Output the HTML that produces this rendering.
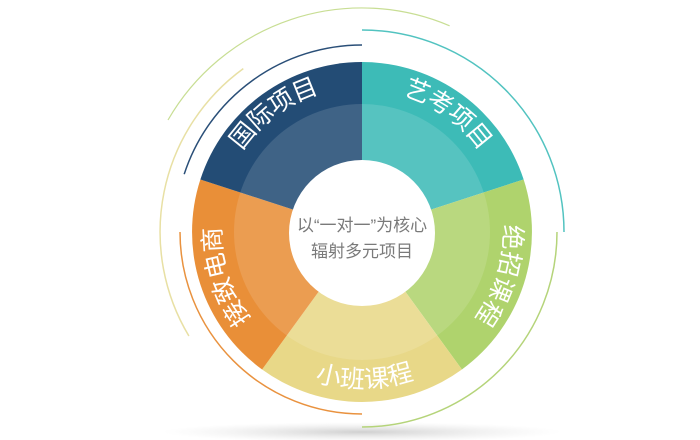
<!DOCTYPE html>
<html><head><meta charset="utf-8"><style>
html,body{margin:0;padding:0;background:#fff;width:700px;height:440px;overflow:hidden}
svg{display:block}
.l{font-family:"Liberation Sans","Noto Sans CJK SC",sans-serif;font-size:25px;fill:#fff;text-anchor:middle;dominant-baseline:central}
.c{font-family:"Liberation Sans","Noto Sans CJK SC",sans-serif;font-size:17px;fill:#7a7a7a;text-anchor:middle}
</style></head><body>
<svg width="700" height="440" viewBox="0 0 700 440">
<defs>
<radialGradient id="sh" cx="50%" cy="50%" r="50%">
<stop offset="0" stop-color="#bbb" stop-opacity="0.7"/>
<stop offset="1" stop-color="#ddd" stop-opacity="0"/>
</radialGradient>
</defs>
<ellipse cx="362" cy="432" rx="200" ry="10" fill="url(#sh)"/>
<!-- decorative arcs -->
<path d="M184.2 174.2 A187 187 0 0 1 362 45" fill="none" stroke="#2a4f78" stroke-width="1.5"/>
<path d="M168 120 A224 224 0 0 1 449.6 25.8" fill="none" stroke="#c8de94" stroke-width="1.2"/>
<path d="M362 30 A202 202 0 0 1 564 232" fill="none" stroke="#52c3c0" stroke-width="1.5"/>
<path d="M188.9 336 A202 202 0 0 1 243.3 68.6" fill="none" stroke="#e8e0a4" stroke-width="1.5"/>
<path d="M362 414 A182 182 0 0 1 180 232" fill="none" stroke="#e9923f" stroke-width="1.5"/>
<path d="M557 232 A195 195 0 0 1 362 427" fill="none" stroke="#b5d47a" stroke-width="1.5"/>
<!-- sectors -->
<g>
<path transform="rotate(36 362 232)" d="M362 232 L262.1 94.5 A170 170 0 0 1 461.9 94.5 Z" fill="#3dbbb7"/>
<path transform="rotate(108 362 232)" d="M362 232 L262.1 94.5 A170 170 0 0 1 461.9 94.5 Z" fill="#afd36d"/>
<path transform="rotate(180 362 232)" d="M362 232 L262.1 94.5 A170 170 0 0 1 461.9 94.5 Z" fill="#e8d888"/>
<path transform="rotate(252 362 232)" d="M362 232 L262.1 94.5 A170 170 0 0 1 461.9 94.5 Z" fill="#e98f38"/>
<path transform="rotate(324 362 232)" d="M362 232 L262.1 94.5 A170 170 0 0 1 461.9 94.5 Z" fill="#234c75"/>
</g>
<circle cx="362" cy="232" r="128" fill="#fff" opacity="0.13"/>
<circle cx="362" cy="233" r="73" fill="#fff"/>
<text class="c" x="362" y="231">以“一对一”为核心</text>
<text class="c" x="362" y="257">辐射多元项目</text>
<!-- labels: navy 309..338 -->
<g class="l">
<text transform="translate(362 232) rotate(309) translate(0 -153)">国</text>
<text transform="translate(362 232) rotate(318.7) translate(0 -153)">际</text>
<text transform="translate(362 232) rotate(328.3) translate(0 -153)">项</text>
<text transform="translate(362 232) rotate(338) translate(0 -153)">目</text>

<text transform="translate(362 232) rotate(21.5) translate(0 -151)">艺</text>
<text transform="translate(362 232) rotate(31.2) translate(0 -151)">考</text>
<text transform="translate(362 232) rotate(40.9) translate(0 -151)">项</text>
<text transform="translate(362 232) rotate(50.6) translate(0 -151)">目</text>

<text transform="translate(362 232) rotate(92) translate(0 -150)">绝</text>
<text transform="translate(362 232) rotate(102.2) translate(0 -150)">招</text>
<text transform="translate(362 232) rotate(112.4) translate(0 -150)">课</text>
<text transform="translate(362 232) rotate(122.6) translate(0 -150)">程</text>

<text transform="translate(362 232) rotate(13) translate(0 148)">小</text>
<text transform="translate(362 232) rotate(3.7) translate(0 148)">班</text>
<text transform="translate(362 232) rotate(-5.7) translate(0 148)">课</text>
<text transform="translate(362 232) rotate(-15) translate(0 148)">程</text>

<text transform="translate(362 232) rotate(237) translate(0 -149)">接</text>
<text transform="translate(362 232) rotate(247) translate(0 -149)">致</text>
<text transform="translate(362 232) rotate(257) translate(0 -149)">电</text>
<text transform="translate(362 232) rotate(267) translate(0 -149)">商</text>
</g>
</svg>
</body></html>
